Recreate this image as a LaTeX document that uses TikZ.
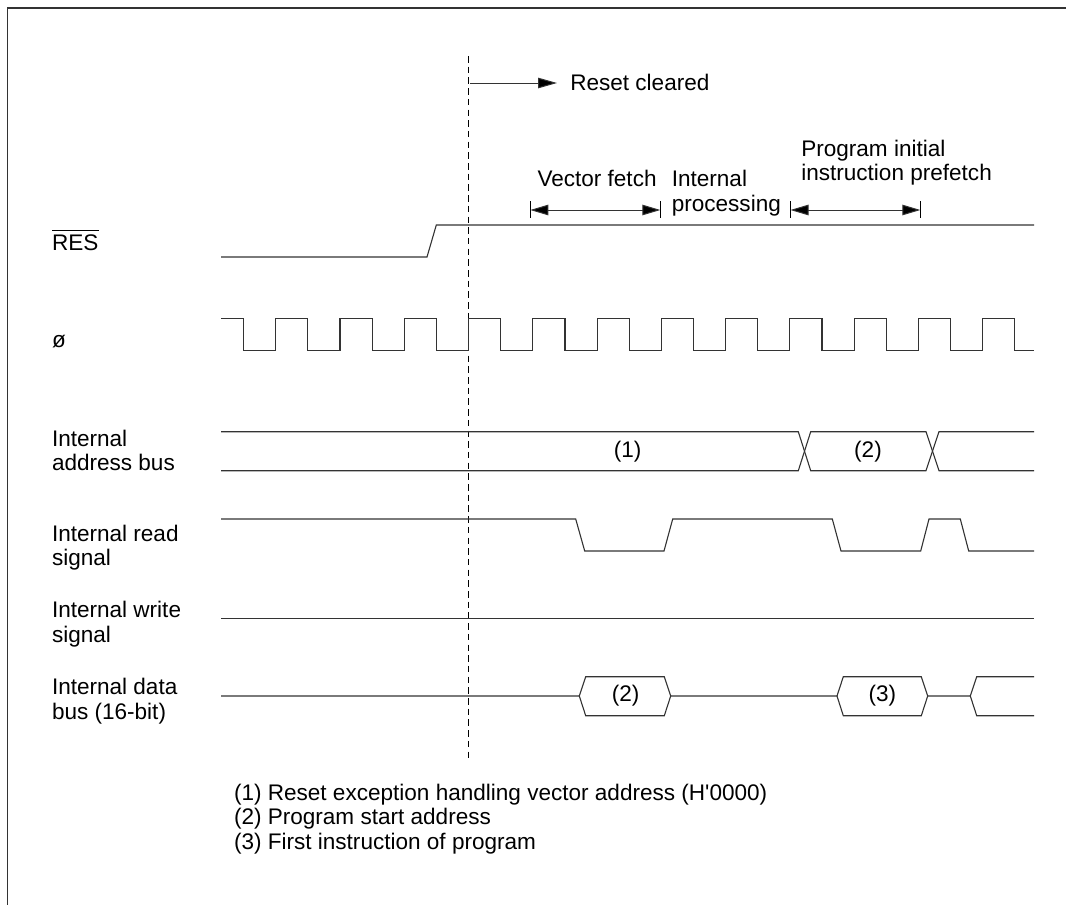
\documentclass[tikz,border=0pt]{standalone}
\usepackage{fontspec}
\setmainfont{Liberation Sans}[Ligatures=TeXOff]
\usetikzlibrary{arrows.meta}
\definecolor{sig}{gray}{0.2}
\tikzset{
  wave/.style={draw=sig,line width=1.1pt,line join=miter},
  txt/.style={anchor=base west,inner sep=0pt,outer sep=0pt,font=\fontsize{22.55}{24.5}\selectfont,text=black},
  mid/.style={anchor=center,inner sep=0pt,outer sep=0pt,font=\fontsize{22.55}{24.5}\selectfont,text=black},
  dimarrow/.style={draw=sig,line width=1pt,{Triangle[length=18pt,width=10.5pt,fill=black]}-{Triangle[length=18pt,width=10.5pt,fill=black]}},
  onearrow/.style={draw=sig,line width=1pt,-{Triangle[length=19pt,width=10.5pt,fill=black]}},
  tickbar/.style={draw=black,line width=0.8pt},
}
\begin{document}
\begin{tikzpicture}[x=1pt,y=-1pt]
\useasboundingbox (0,0) rectangle (1066,905);
\fill[white] (0,0) rectangle (1066,905);
% frame
\draw[draw=sig,line width=1.3pt] (7.3,905) -- (7.3,8) -- (1066,8);
% reset line
\coordinate (ra) at (468.3,56);
\coordinate (rb) at (468.3,760);
\draw[black,line width=0.9pt,dash pattern=on 6.5pt off 4.2pt] (ra) -- (rb);
% RES
\draw[wave] (221,257) -- (427,257) -- (436.3,225) -- (1034,225);
% clock
\draw[wave] (221,318.7)
  \foreach \k in {0,...,11} {
    -- ({243.6+64.27*\k},318.7) -- ({243.6+64.27*\k},350.7)
    -- ({275.75+64.27*\k},350.7) -- ({275.75+64.27*\k},318.7)
  } -- (1014.8,318.7) -- (1014.8,350.7) -- (1034,350.7);
% address bus
\draw[wave] (221,431.7) -- (798.3,431.7) -- (810.7,470.7) -- (926,470.7) -- (939,431.7) -- (1034,431.7);
\draw[wave] (221,470.7) -- (798.3,470.7) -- (810.7,431.7) -- (926,431.7) -- (939,470.7) -- (1034,470.7);
% read
\draw[wave] (221,519) -- (575.7,519) -- (584.7,551) -- (664,551) -- (672.7,519) -- (832.3,519) -- (841,551)
  -- (920.7,551) -- (929,519) -- (960.3,519) -- (968.7,551) -- (1034,551);
% write
\draw[wave] (221,618.3) -- (1034,618.3);
% data
\draw[wave] (221,696) -- (579.3,696) -- (585.7,676.7) -- (664.3,676.7) -- (670.7,696) -- (837,696)
  -- (843.3,676.7) -- (921.3,676.7) -- (927.7,696) -- (970.3,696) -- (976.7,676.7) -- (1034,676.7);
\draw[wave] (579.3,696) -- (585.7,715.7) -- (664.3,715.7) -- (670.7,696);
\draw[wave] (837,696) -- (843.3,715.7) -- (921.3,715.7) -- (927.7,696);
\draw[wave] (970.3,696) -- (976.7,715.7) -- (1034,715.7);
% arrows
\coordinate (rc0) at (470,83);
\node[txt] (rclabel) at (570.3,90.5) {Reset cleared};
\coordinate (rc1) at (557,83);
\draw[onearrow] (rc0) -- (rc1);
\coordinate (v0) at (530.3,210);
\coordinate (v1) at (660.3,210);
\draw[tickbar] (530.3,201) -- (530.3,218);
\draw[tickbar] (660.3,201) -- (660.3,218);
\draw[dimarrow] (v0) -- (v1);
\coordinate (p0) at (790.5,210);
\coordinate (p1) at (920.3,210);
\draw[tickbar] (790.5,201) -- (790.5,218);
\draw[tickbar] (920.3,201) -- (920.3,218);
\draw[dimarrow] (p0) -- (p1);
% top texts
\node[txt] (vf) at (537.5,186) {Vector fetch};
\node[txt] (ip1) at (671.8,186.5) {Internal};
\node[txt] (ip2) at (671.8,211) {processing};
\node[txt] (pi1) at (801.3,156) {Program initial};
\node[txt] (pi2) at (801.3,180.5) {instruction prefetch};
% signal labels
\node[txt] (res) at (52,250) {RES};
\draw[black,line width=1pt] (52,230) -- (99,230);
\node[txt] (phi) at (52,347) {ø};
\node[txt] (ab1) at (52,446) {Internal};
\node[txt] (ab2) at (52,470.5) {address bus};
\node[txt] (rd1) at (52,541) {Internal read};
\node[txt] (rd2) at (52,565.7) {signal};
\node[txt] (wr1) at (52,617.3) {Internal write};
\node[txt] (wr2) at (52,642) {signal};
\node[txt] (db1) at (52,694.3) {Internal data};
\node[txt] (db2) at (52,719) {bus (16-bit)};
% values
\node[mid] (v1a) at (627.7,451.5) {(1)};
\node[mid] (v2a) at (868,451.5) {(2)};
\node[mid] (v2d) at (625.7,696) {(2)};
\node[mid] (v3d) at (882.3,696) {(3)};
% legend
\node[txt] (l1) at (234,800) {(1) Reset exception handling vector address (H'0000)};
\node[txt] (l2) at (234,824.5) {(2) Program start address};
\node[txt] (l3) at (234,849) {(3) First instruction of program};
\end{tikzpicture}
\end{document}
